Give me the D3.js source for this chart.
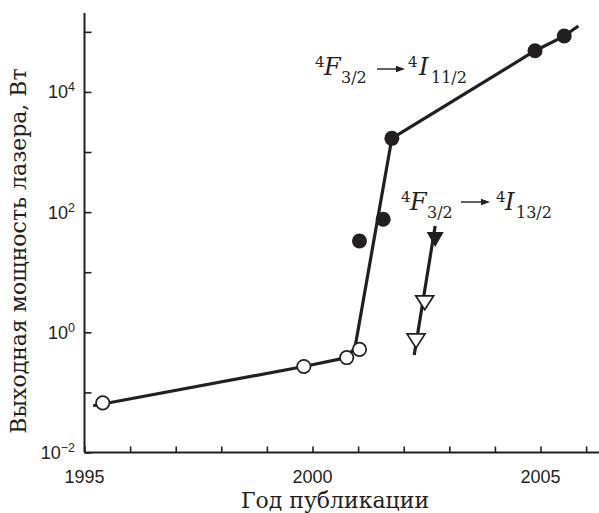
<!DOCTYPE html>
<html>
<head>
<meta charset="utf-8">
<script src="https://cdn.jsdelivr.net/npm/d3@7"></script>
<style>
  html, body { margin: 0; padding: 0; background: #fff; }
  svg { display: block; }
</style>
</head>
<body>
<div id="chart"></div>
<script>
// Nd laser output power by year of publication (log scale)
const openCircles = [
  [1995.40, 0.067],
  [1999.81, 0.27],
  [2000.75, 0.38],
  [2001.03, 0.52]
];
const filledCircles = [
  [2001.03, 33],
  [2001.55, 76],
  [2001.74, 1690],
  [2004.88, 48500],
  [2005.52, 85000]
];
// trend line for the 4F3/2 -> 4I11/2 transition
const trend1110 = [
  [1995.19, 0.060],
  [1999.81, 0.27],
  [2000.75, 0.38],
  [2000.93, 0.55],
  [2001.74, 1690],
  [2004.88, 48500],
  [2005.52, 85000],
  [2005.83, 125000]
];
// 4F3/2 -> 4I13/2 transition
const filledTriangles = [[2002.69, 35]];
const openTriangles = [
  [2002.46, 3.1],
  [2002.27, 0.72]
];
const trend1310 = [
  [2002.69, 58.7],
  [2002.23, 0.42]
];
const xTickYears = d3.range(1995, 2007);
const xLabelYears = [1995, 2000, 2005];
const yTickExps = d3.range(-2, 6);
const yLabelExps = [-2, 0, 2, 4];

const W = 599, H = 513;
const ink = "#231f20";
const sans = "'Liberation Sans', Arial, sans-serif";
const serif = "'DejaVu Serif', serif";

const svg = d3.select("#chart").append("svg")
  .attr("width", W).attr("height", H);

const x = d3.scaleLinear().domain([1995, 2006.3]).range([84.5, 599.8]);
const y = d3.scaleLog().domain([1e-2, Math.pow(10, 5.3)]).range([452.5, 13.8]);

// axes
const xAxis = d3.axisBottom(x).tickValues(xTickYears).tickSize(-6).tickFormat("");
const yAxis = d3.axisLeft(y).tickValues(yTickExps.map(e => Math.pow(10, e))).tickSize(-7).tickFormat("");

const gx = svg.append("g").attr("transform", `translate(0,${y(1e-2)})`).call(xAxis);
const gy = svg.append("g").attr("transform", `translate(${x(1995)},0)`).call(yAxis);
[gx, gy].forEach(g => {
  g.select(".domain").attr("stroke", ink).attr("stroke-width", 2);
  g.selectAll(".tick line").attr("stroke", ink).attr("stroke-width", 1.6);
});
gx.select(".domain").attr("d", `M${x(1995)},0H${W}`);
gy.select(".domain").attr("d", `M0,${y(1e-2)}V13`);

// x tick labels
svg.append("g").selectAll("text").data(xLabelYears).join("text")
  .attr("x", d => x(d)).attr("y", y(1e-2) + 30)
  .attr("text-anchor", "middle")
  .attr("font-family", sans).attr("font-size", 18).attr("fill", ink)
  .text(d => d);

// y tick labels: 10 with superscript exponent
const yl = svg.append("g").selectAll("text").data(yLabelExps).join("text")
  .attr("x", 75).attr("y", d => y(Math.pow(10, d)) + 6.5)
  .attr("text-anchor", "end")
  .attr("font-family", sans).attr("font-size", 18).attr("fill", ink);
yl.append("tspan").text("10");
yl.append("tspan").attr("font-size", 12.5).attr("dy", -7)
  .text(d => d < 0 ? "\u2212" + Math.abs(d) : d);

// axis titles
svg.append("text")
  .attr("x", 335).attr("y", 508)
  .attr("text-anchor", "middle")
  .attr("font-family", serif).attr("font-size", 22).attr("fill", ink)
  .text("Год публикации");
svg.append("text")
  .attr("transform", "translate(26,251) rotate(-90)")
  .attr("text-anchor", "middle")
  .attr("font-family", serif).attr("font-size", 22).attr("fill", ink)
  .text("Выходная мощность лазера, Вт");

// trend lines
const line = d3.line().x(d => x(d[0])).y(d => y(d[1]));
[trend1110, trend1310].forEach(t => {
  svg.append("path").datum(t)
    .attr("d", line)
    .attr("fill", "none").attr("stroke", ink)
    .attr("stroke-width", 3.2).attr("stroke-linejoin", "round");
});

// circles
svg.append("g").selectAll("circle").data(openCircles).join("circle")
  .attr("cx", d => x(d[0])).attr("cy", d => y(d[1])).attr("r", 6.7)
  .attr("fill", "#fff").attr("stroke", ink).attr("stroke-width", 1.7);
svg.append("g").selectAll("circle").data(filledCircles).join("circle")
  .attr("cx", d => x(d[0])).attr("cy", d => y(d[1])).attr("r", 7.5)
  .attr("fill", ink);

// downward triangles
const tri = (w, h) => `M${-w / 2},${-h / 2}L${w / 2},${-h / 2}L0,${h / 2}Z`;
svg.append("g").selectAll("path").data(filledTriangles).join("path")
  .attr("transform", d => `translate(${x(d[0])},${y(d[1])})`)
  .attr("d", tri(17, 15)).attr("fill", ink);
svg.append("g").selectAll("path").data(openTriangles).join("path")
  .attr("transform", d => `translate(${x(d[0])},${y(d[1])})`)
  .attr("d", tri(18, 14)).attr("fill", "#fff")
  .attr("stroke", ink).attr("stroke-width", 1.7).attr("stroke-linejoin", "miter");

// transition labels: superscript multiplicity, italic term letter, subscript J
function term(g, px, py, sup, letter, sub, letterDx, subDx) {
  const t = g.append("text").attr("y", py)
    .attr("font-family", serif).attr("font-size", 24).attr("fill", ink);
  t.append("tspan").attr("x", px).attr("y", py - 8).attr("font-size", 15).text(sup);
  t.append("tspan").attr("x", px + letterDx).attr("y", py).attr("font-style", "italic").text(letter);
  t.append("tspan").attr("x", px + subDx).attr("y", py + 8).attr("font-size", 16).text(sub);
}
function arrow(g, x0, x1, yy) {
  g.append("line").attr("x1", x0).attr("x2", x1 - 6).attr("y1", yy).attr("y2", yy)
    .attr("stroke", ink).attr("stroke-width", 1.4);
  g.append("path").attr("d", `M${x1},${yy}L${x1 - 9},${yy - 3.2}L${x1 - 9},${yy + 3.2}Z`).attr("fill", ink);
}
const ann = svg.append("g");
term(ann, 315, 75, "4", "F", "3/2", 9, 26);
arrow(ann, 377, 405, 69);
term(ann, 408, 75, "4", "I", "11/2", 11, 23);
term(ann, 401, 210, "4", "F", "3/2", 9, 26);
arrow(ann, 461, 490, 202);
term(ann, 496, 210, "4", "I", "13/2", 9, 20);
</script>
</body>
</html>
